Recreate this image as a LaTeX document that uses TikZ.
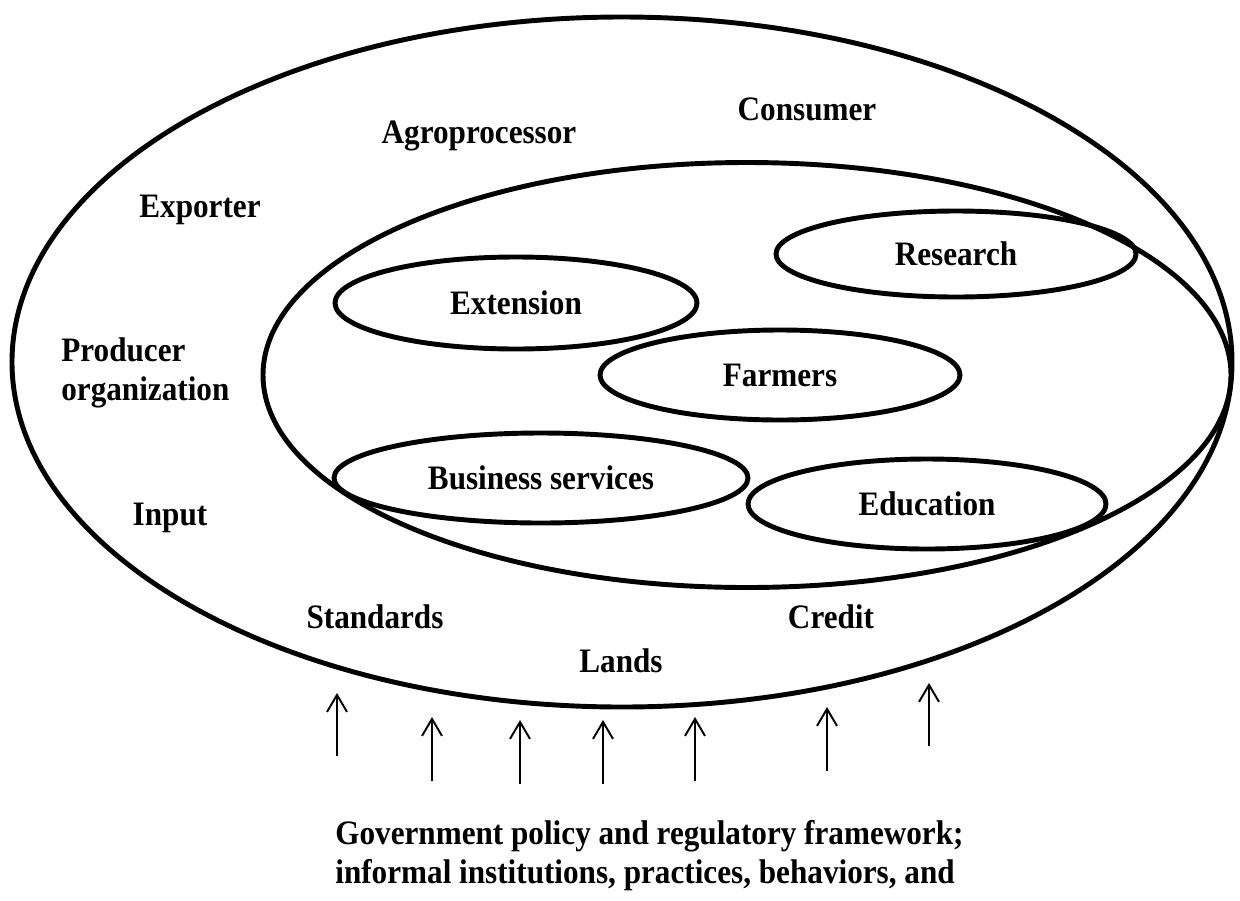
\documentclass[tikz,border=0pt]{standalone}
\usepackage{fontspec}
\setmainfont{Liberation Serif}[FakeStretch=0.91]
\usetikzlibrary{shapes.geometric,arrows.meta}

\begin{document}
\begin{tikzpicture}[x=0.2mm,y=-0.2mm,>={Straight Barb[length=3.4mm,width=4mm]},
    every node/.style={font=\fontsize{19.5}{22}\selectfont\bfseries},
    ring/.style 2 args={ellipse,draw,line width=2.8pt,inner sep=0pt,
      minimum width=#1*0.2mm,minimum height=#2*0.2mm},
    actor/.style={anchor=base,inner sep=0pt},
    feed/.style={->,line width=1.1pt}]

  \useasboundingbox (0,0) rectangle (1240,900);

  % value chain around the knowledge system
  \node[ring={1220}{690}] (chain) at (622,362) {};
  \node[ring={968}{425}] (knowledge) at (747,375) {};

  \node[ring={362}{92}] (extension) at (516,303) {Extension};
  \node[ring={360}{86}] (research) at (956,254) {Research};
  \node[ring={360}{90}] (farmers) at (780,375) {Farmers};
  \node[ring={414}{90}] (business) at (541,478) {Business services};
  \node[ring={358}{90}] (education) at (927,504) {Education};

  % actors of the chain
  \node[actor] (consumer) at (807,120) {Consumer};
  \node[actor] (agro) at (479,143) {Agroprocessor};
  \node[actor] (exporter) at (200,217) {Exporter};
  \node[actor,anchor=base west,align=left] (producer) at (61,400)
    {Producer\\organization};
  \node[actor] (input) at (170,525) {Input};
  \node[actor] (standards) at (375,628) {Standards};
  \node[actor] (lands) at (621,672) {Lands};
  \node[actor] (credit) at (831,628) {Credit};

  % enabling environment pushing up
  \node[actor,anchor=base west,align=left] (policy) at (335,883)
    {Government policy and regulatory framework;\\
     informal institutions, practices, behaviors, and};

  \foreach \xa/\ytip/\yfoot [count=\i] in {337/693/756, 432/717/781, 520/720/784,
      603/720/784, 695/717/781, 827/707/771, 929/683/746} {
    \coordinate (push\i-foot) at (\xa,\yfoot);
    \coordinate (push\i-tip) at (\xa,\ytip);
    \draw[feed] (push\i-foot) -- (push\i-tip);
  }
\end{tikzpicture}
\end{document}
